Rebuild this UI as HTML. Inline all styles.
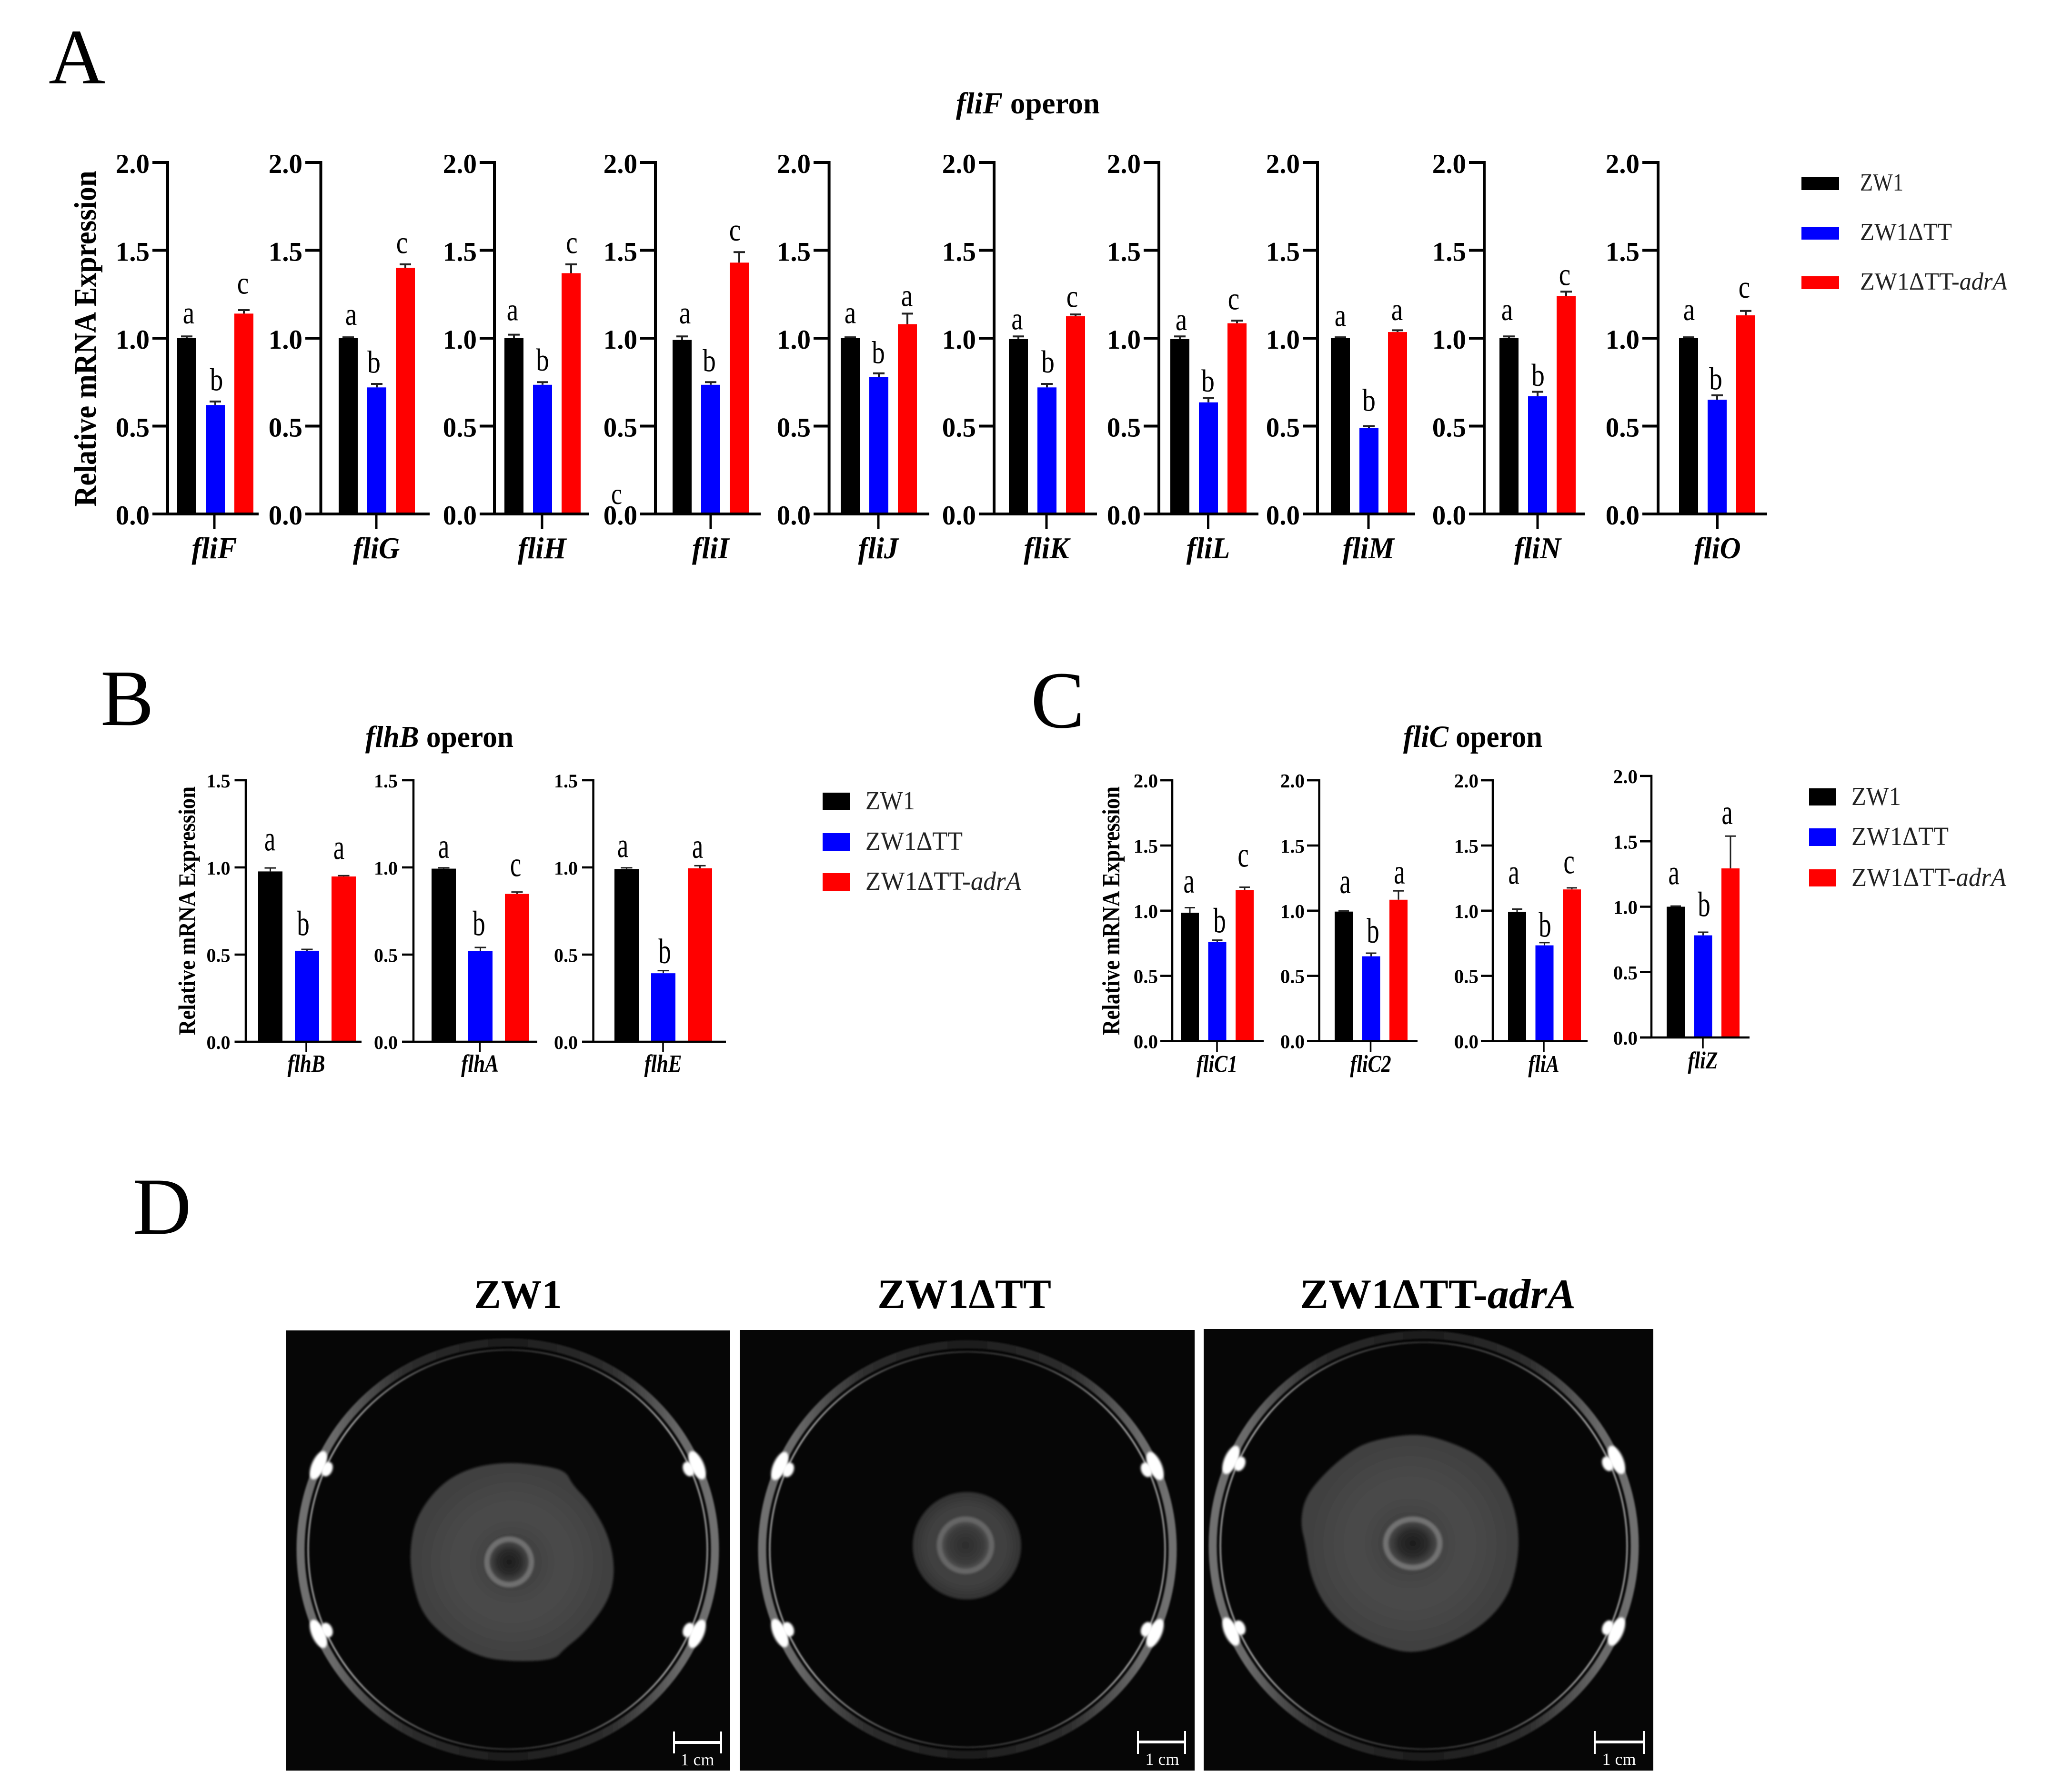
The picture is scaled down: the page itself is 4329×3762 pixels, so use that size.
<!DOCTYPE html>
<html lang="en">
<head>
<meta charset="utf-8">
<title>Flagellar gene expression and swarming</title>
<style>
html,body{margin:0;padding:0;background:#fff}
svg{display:block}
text{font-family:"Liberation Serif","DejaVu Serif",serif;fill:#000}
</style>
</head>
<body>
<svg id="fig" xmlns="http://www.w3.org/2000/svg" width="4329" height="3762" viewBox="0 0 4329 3762">
<defs>
<filter id="soft" x="-30%" y="-30%" width="160%" height="160%"><feGaussianBlur stdDeviation="2.5"/></filter>
<filter id="soft1" x="-10%" y="-10%" width="120%" height="120%"><feGaussianBlur stdDeviation="1.5"/></filter>
<clipPath id="clip1"><rect x="600" y="2793" width="933" height="924"/></clipPath>
<clipPath id="clip2"><rect x="1553" y="2792" width="955" height="925"/></clipPath>
<clipPath id="clip3"><rect x="2527" y="2790" width="944" height="927"/></clipPath>
<radialGradient id="swarmFill" cx="50%" cy="50%" r="55%"><stop offset="0" stop-color="#3a3a3a"/><stop offset=".45" stop-color="#4a4a4a"/><stop offset="1" stop-color="#3d3d3d"/></radialGradient>
<radialGradient id="swarmSmall" cx="50%" cy="50%" r="52%"><stop offset="0" stop-color="#474747"/><stop offset=".7" stop-color="#3f3f3f"/><stop offset="1" stop-color="#303030"/></radialGradient>
<radialGradient id="coreFill" cx="50%" cy="50%" r="50%"><stop offset="0" stop-color="#1c1c1c"/><stop offset=".55" stop-color="#2c2c2c"/><stop offset="1" stop-color="#525252"/></radialGradient>
<radialGradient id="coreSmall" cx="50%" cy="50%" r="50%"><stop offset="0" stop-color="#2c2c2c"/><stop offset=".7" stop-color="#3c3c3c"/><stop offset="1" stop-color="#5a5a5a"/></radialGradient>
<linearGradient id="rimBand" x1="0" y1="0" x2="1" y2="0"><stop offset="0" stop-color="#707070"/><stop offset=".08" stop-color="#6a6a6a"/><stop offset=".25" stop-color="#2e2e2e"/><stop offset=".5" stop-color="#1c1c1c"/><stop offset=".75" stop-color="#2e2e2e"/><stop offset=".92" stop-color="#6a6a6a"/><stop offset="1" stop-color="#707070"/></linearGradient>
<linearGradient id="rimLine" x1="0" y1="0" x2="1" y2="0"><stop offset="0" stop-color="#9a9a9a"/><stop offset=".1" stop-color="#aaaaaa"/><stop offset=".3" stop-color="#4a4a4a"/><stop offset=".5" stop-color="#2e2e2e"/><stop offset=".7" stop-color="#4a4a4a"/><stop offset=".9" stop-color="#aaaaaa"/><stop offset="1" stop-color="#9a9a9a"/></linearGradient>
</defs>

<text x="102" y="175" font-size="165">A</text>
<text x="211" y="1522" font-size="168">B</text>
<text x="2164" y="1527" font-size="170">C</text>
<text x="279" y="2590" font-size="170">D</text>

<text x="2007" y="238" font-size="63" font-weight="bold" textLength="302" lengthAdjust="spacingAndGlyphs"><tspan font-style="italic">fliF</tspan> operon</text>
<text x="767" y="1568" font-size="63" font-weight="bold" textLength="311" lengthAdjust="spacingAndGlyphs"><tspan font-style="italic">flhB</tspan> operon</text>
<text x="2946" y="1568" font-size="65" font-weight="bold" textLength="292" lengthAdjust="spacingAndGlyphs"><tspan font-style="italic">fliC</tspan> operon</text>

<text transform="translate(201 711) rotate(-90)" text-anchor="middle" font-size="66" font-weight="bold" textLength="705" lengthAdjust="spacingAndGlyphs">Relative mRNA Expression</text>
<text transform="translate(409 1912) rotate(-90)" text-anchor="middle" font-size="50" font-weight="bold" textLength="522" lengthAdjust="spacingAndGlyphs">Relative mRNA Expression</text>
<text transform="translate(2350 1912) rotate(-90)" text-anchor="middle" font-size="52" font-weight="bold" textLength="522" lengthAdjust="spacingAndGlyphs">Relative mRNA Expression</text>

<g fill="#000">
<rect x="3782" y="372" width="79" height="27" fill="#000"/>
<rect x="3782" y="476" width="79" height="27" fill="#0000ff"/>
<rect x="3782" y="580" width="79" height="27" fill="#ff0000"/>
<text x="3905" y="400" font-size="52" style="fill:#222" textLength="91" lengthAdjust="spacingAndGlyphs">ZW1</text>
<text x="3905" y="504" font-size="52" style="fill:#222" textLength="193" lengthAdjust="spacingAndGlyphs">ZW1ΔTT</text>
<text x="3905" y="608" font-size="52" style="fill:#222" textLength="309" lengthAdjust="spacingAndGlyphs">ZW1ΔTT-<tspan font-style="italic">adrA</tspan></text>
</g>
<g>
<rect x="1727" y="1664" width="57" height="37" fill="#000"/>
<rect x="1727" y="1749" width="57" height="37" fill="#0000ff"/>
<rect x="1727" y="1833" width="57" height="37" fill="#ff0000"/>
<text x="1817" y="1699" font-size="55" style="fill:#222" textLength="104" lengthAdjust="spacingAndGlyphs">ZW1</text>
<text x="1817" y="1784" font-size="55" style="fill:#222" textLength="204" lengthAdjust="spacingAndGlyphs">ZW1ΔTT</text>
<text x="1817" y="1868" font-size="55" style="fill:#222" textLength="327" lengthAdjust="spacingAndGlyphs">ZW1ΔTT-<tspan font-style="italic">adrA</tspan></text>
</g>
<g>
<rect x="3798" y="1655" width="57" height="36" fill="#000"/>
<rect x="3798" y="1739" width="57" height="37" fill="#0000ff"/>
<rect x="3798" y="1825" width="57" height="36" fill="#ff0000"/>
<text x="3887" y="1690" font-size="55" style="fill:#222" textLength="104" lengthAdjust="spacingAndGlyphs">ZW1</text>
<text x="3887" y="1774" font-size="55" style="fill:#222" textLength="204" lengthAdjust="spacingAndGlyphs">ZW1ΔTT</text>
<text x="3887" y="1860" font-size="55" style="fill:#222" textLength="325" lengthAdjust="spacingAndGlyphs">ZW1ΔTT-<tspan font-style="italic">adrA</tspan></text>
</g>

<text transform="translate(1283 1058) scale(.9 1.1)" font-size="58">c</text>

<g id="charts"></g>

<text x="995" y="2746" font-size="86" font-weight="bold" textLength="185" lengthAdjust="spacingAndGlyphs">ZW1</text>
<text x="1842" y="2746" font-size="88" font-weight="bold" textLength="365" lengthAdjust="spacingAndGlyphs">ZW1ΔTT</text>
<text x="2729" y="2746" font-size="88" font-weight="bold" textLength="579" lengthAdjust="spacingAndGlyphs">ZW1ΔTT-<tspan font-style="italic">adrA</tspan></text>

<g>
<rect x="600" y="2793" width="933" height="924" fill="#060606"/>
<g id="dish1" clip-path="url(#clip1)"></g>
<path id="swarm1" fill="url(#swarmFill)" filter="url(#soft)"/>
<ellipse cx="1069" cy="3279" rx="47" ry="48" fill="url(#coreFill)" stroke="#707070" stroke-width="11" filter="url(#soft)"/>
<rect x="1414" y="3655" width="100" height="6" fill="#fff"/>
<rect x="1413" y="3635" width="4" height="46" fill="#fff"/>
<rect x="1512" y="3635" width="4" height="46" fill="#fff"/>
<text x="1464" y="3706" font-size="36" text-anchor="middle" style="fill:#fff">1 cm</text>
</g>
<g>
<rect x="1553" y="2792" width="955" height="925" fill="#060606"/>
<g id="dish2" clip-path="url(#clip2)"></g>
<ellipse cx="2030" cy="3245" rx="114" ry="113" fill="url(#swarmSmall)" filter="url(#soft)"/>
<ellipse cx="2027" cy="3244" rx="55" ry="55" fill="url(#coreSmall)" stroke="#666" stroke-width="11" filter="url(#soft)"/>
<rect x="2389" y="3654" width="99" height="6" fill="#fff"/>
<rect x="2387" y="3634" width="4" height="48" fill="#fff"/>
<rect x="2486" y="3634" width="4" height="48" fill="#fff"/>
<text x="2440" y="3705" font-size="36" text-anchor="middle" style="fill:#fff">1 cm</text>
</g>
<g>
<rect x="2527" y="2790" width="944" height="927" fill="#060606"/>
<g id="dish3" clip-path="url(#clip3)"></g>
<path id="swarm3" fill="url(#swarmFill)" filter="url(#soft)"/>
<ellipse cx="2966" cy="3240" rx="57" ry="51" fill="url(#coreFill)" stroke="#727272" stroke-width="11" filter="url(#soft)"/>
<rect x="3348" y="3654" width="103" height="6" fill="#fff"/>
<rect x="3346" y="3634" width="4" height="48" fill="#fff"/>
<rect x="3449" y="3634" width="4" height="48" fill="#fff"/>
<text x="3399" y="3705" font-size="36" text-anchor="middle" style="fill:#fff">1 cm</text>
</g>
</svg>

<script>
// ---------- Panel A data (fliF operon) ----------
const genesA = ['fliF','fliG','fliH','fliI','fliJ','fliK','fliL','fliM','fliN','fliO'];
const zw1A = [1.00,1.00,1.00,0.99,1.00,0.995,0.995,1.00,1.00,1.00];
const zw1ErrA = [0.01,0.005,0.02,0.02,0.005,0.015,0.015,0.005,0.01,0.005];
const ttA = [0.62,0.72,0.735,0.735,0.78,0.72,0.635,0.49,0.67,0.65];
const ttErrA = [0.02,0.02,0.015,0.015,0.02,0.02,0.025,0.01,0.025,0.025];
const adrA = [1.14,1.40,1.37,1.43,1.08,1.125,1.085,1.035,1.24,1.13];
const adrErrA = [0.02,0.02,0.05,0.06,0.06,0.01,0.015,0.01,0.025,0.025];
const lettersA = ['abc','abc','abc','abc','aba','abc','abc','aba','abc','abc'];
const letterLevelA = [[1.125,0.765,1.294],[1.117,0.866,1.525],[1.143,0.877,1.525],[1.125,0.873,1.596],[1.127,0.92,1.224],[1.091,0.867,1.218],[1.087,0.759,1.205],[1.11,0.649,1.144],[1.144,0.791,1.343],[1.144,0.77,1.271]];
const ticksA = ['0.0','0.5','1.0','1.5','2.0'];

// ---------- Panel B data (flhB operon) ----------
const genesB = ['flhB','flhA','flhE'];
const zw1B = [0.977,0.993,0.991];
const zw1ErrB = [0.02,0.005,0.007];
const ttB = [0.522,0.52,0.393];
const ttErrB = [0.008,0.021,0.015];
const adrB = [0.948,0.848,0.995];
const adrErrB = [0.005,0.011,0.015];
const lettersB = ['aba','abc','aba'];
const letterLevelB = [[1.143,0.68,1.094],[1.101,0.68,0.995],[1.105,0.52,1.101]];
const ticksB = ['0.0','0.5','1.0','1.5'];

// ---------- Panel C data (fliC operon) ----------
const genesC = ['fliC1','fliC2','fliA','fliZ'];
const zw1C = [0.984,0.993,0.991,1.00];
const zw1ErrC = [0.039,0.005,0.021,0.005];
const ttC = [0.76,0.65,0.734,0.781];
const ttErrC = [0.014,0.024,0.021,0.024];
const adrC = [1.159,1.084,1.163,1.293];
const adrErrC = [0.021,0.068,0.012,0.247];
const lettersC = ['abc','aba','abc','aba'];
const letterLevelC = [[1.2,0.925,1.399],[1.196,0.846,1.268],[1.266,0.893,1.347],[1.233,1.02,1.693]];
const ticksC = ['0.0','0.5','1.0','1.5','2.0'];

// ---------- Layout (not data) ----------
const layoutA = {y0:1079,unit:369,barW:40,step:60,stroke:6,tickW:6,errW:4,cap:24,xTick:31,tickFont:57,tickGap:6,tickDy:22,
  labelFont:61,labelDy:93,labelSy:1.05,letterFont:60,letterSx:0.92,letterSy:1.12,
  frames:[[352,320,543,372,450],[673.5,641,902,711,790],[1038,1007,1237,1059,1138],[1376,1344,1597,1412,1492],[1740.6,1708,1951,1765,1844],[2087,2055,2303,2118,2197],[2433,2401,2642,2457,2536.5],[2766,2735,2971,2794,2873],[3116,3084,3327,3148,3228],[3481,3448,3710,3525,3605.5]],
  nudge:[[4,2.5,-2],[6,-6,-7],[-3,0,1.5],[6,-3,-9],[0,-1,-1],[-2.5,2,-7],[3,-1,-7],[0,0,-1],[-4,1,-3],[1,-3,-3]]};
const layoutB = {y0:2187,unit:366,barW:51,step:77,stroke:4.5,tickW:4.5,errW:3,cap:24,xTick:21,tickFont:40,tickGap:9,tickDy:15,
  labelFont:43,labelDy:63,labelSy:1.2,letterFont:62,letterSx:0.85,letterSy:1.2,
  frames:[[516,492.5,759,542,643],[868,844,1128,906,1007.5],[1245.6,1222,1524,1290,1392]],
  nudge:[[-1,-8,-10],[0,-3,-3],[-8,3,-5]]};
const layoutC = {y0:2185.5,unit:273.7,barW:38,step:57.5,stroke:4.5,tickW:4.5,errW:3,cap:22,xTick:23,tickFont:41,tickGap:5,tickDy:15,
  labelFont:42,labelDy:65,labelSy:1.2,letterFont:62,letterSx:0.85,letterSy:1.2,
  frames:[[2461,2436,2653,2479,2555],[2769.6,2744,2976,2802,2877.5],[3134,3109,3333,3166,3241],[3467,3443,3673,3499,3575]],
  frameY:[null,null,null,[2178,274.5]],
  nudge:[[-2,5,-3],[3,4,2],[-7,1,-6],[-4,2,-7]]};

const seriesColors = ['#000000','#0000ff','#ff0000'];
const seriesKeys = ['zw1','tt','adra'];
const NS = 'http://www.w3.org/2000/svg';
const chartsRoot = document.getElementById('charts');

function mk(tag, attrs, parent){
  const el = document.createElementNS(NS, tag);
  for (const k in attrs) el.setAttribute(k, attrs[k]);
  parent.appendChild(el);
  return el;
}

function drawGroup(name, layout, genes, ticks, series, errors, letters, levels){
  genes.forEach(function(gene, p){
    const f = layout.frames[p];
    const axisX = f[0], tickL = f[1], endX = f[2], barX0 = f[3], xTickX = f[4];
    const over = layout.frameY && layout.frameY[p];
    const y0 = over ? over[0] : layout.y0;
    const unit = over ? over[1] : layout.unit;
    const yAxis = function(v){ return y0 - v * unit; };
    const xAxis = function(i){ return barX0 + i * layout.step; };

    const g = mk('g', {}, chartsRoot);
    
    

    // bars and error bars
    series.forEach(function(vals, s){
      const v = vals[p], top = v + errors[s][p];
      const cx = xAxis(s) + layout.barW / 2;
      const err = mk('path', {d:'M'+cx+' '+yAxis(v)+'V'+yAxis(top)+'M'+(cx-layout.cap/2)+' '+yAxis(top)+'H'+(cx+layout.cap/2),
        stroke:'#222', 'stroke-width':layout.errW, fill:'none'}, g);
      
      
      const bar = mk('rect', {x:xAxis(s), y:yAxis(v), width:layout.barW, height:y0 - yAxis(v), fill:seriesColors[s]}, g);
      
      

      const ch = letters[p][s];
      const ly = yAxis(levels[p][s]) + layout.letterFont * layout.letterSy * (ch === 'b' ? 0.34 : 0.225);
      const lt = mk('text', {transform:'translate(' + (cx + layout.nudge[p][s]) + ' ' + ly + ') scale(' + layout.letterSx + ' ' + layout.letterSy + ')', 'font-size':layout.letterFont, 'text-anchor':'middle'}, g);
      lt.textContent = ch;
      
      
    });

    // axes
    const topVal = parseFloat(ticks[ticks.length - 1]);
    const ya = mk('line', {x1:axisX, x2:axisX, y1:yAxis(topVal) - layout.tickW / 2, y2:y0, stroke:'#000', 'stroke-width':layout.stroke}, g);
    
    
    const xa = mk('line', {x1:tickL, x2:endX, y1:y0, y2:y0, stroke:'#000', 'stroke-width':layout.stroke}, g);
    
    
    const xt = mk('line', {x1:xTickX, x2:xTickX, y1:y0, y2:y0 + layout.xTick, stroke:'#000', 'stroke-width':layout.tickW - 1}, g);
    
    

    ticks.forEach(function(lbl){
      const v = parseFloat(lbl);
      const tk = mk('line', {x1:tickL, x2:axisX, y1:yAxis(v), y2:yAxis(v), stroke:'#000', 'stroke-width':layout.tickW}, g);
      
      
      const tl = mk('text', {x:tickL - layout.tickGap, y:yAxis(v) + layout.tickDy, 'font-size':layout.tickFont, 'font-weight':'bold', 'text-anchor':'end'}, g);
      tl.textContent = lbl;
      
      
    });

    const gl = mk('text', {transform:'translate(' + xTickX + ' ' + (y0 + layout.labelDy) + ') scale(1 ' + layout.labelSy + ')', 'font-size':layout.labelFont, 'font-weight':'bold', 'font-style':'italic', 'text-anchor':'middle'}, g);
    gl.textContent = gene;
    
    
  });
}

drawGroup('a', layoutA, genesA, ticksA, [zw1A, ttA, adrA], [zw1ErrA, ttErrA, adrErrA], lettersA, letterLevelA);
drawGroup('b', layoutB, genesB, ticksB, [zw1B, ttB, adrB], [zw1ErrB, ttErrB, adrErrB], lettersB, letterLevelB);
drawGroup('c', layoutC, genesC, ticksC, [zw1C, ttC, adrC], [zw1ErrC, ttErrC, adrErrC], lettersC, letterLevelC);

// ---------- Petri dishes (photo imitation) ----------
function drawDish(id, cx, cy, r){
  const g = document.getElementById(id);
  const band = mk('circle', {cx:cx, cy:cy, r:r - 9, fill:'none', stroke:'url(#rimBand)', 'stroke-width':17, filter:'url(#soft1)'}, g);
  
  
  const inner = mk('circle', {cx:cx, cy:cy, r:r - 25, fill:'none', stroke:'url(#rimLine)', 'stroke-width':3.5, filter:'url(#soft1)'}, g);
  
  

  [204,336,156,24].forEach(function(deg){
    const rad = deg * Math.PI / 180;
    [[0.98,14,32],[0.935,11,16]].forEach(function(b){
      const x = cx + r * b[0] * Math.cos(rad), y = cy + r * b[0] * Math.sin(rad);
      const spot = mk('ellipse', {cx:x, cy:y, rx:b[1], ry:b[2], fill:'#fff', filter:'url(#soft)', transform:'rotate(' + deg + ' ' + x + ' ' + y + ')'}, g);
      
      
    });
  });
}
drawDish('dish1', 1066, 3253, 444);
drawDish('dish2', 2031, 3253, 440);
drawDish('dish3', 2989, 3245, 452);

// ---------- Swarm colony outlines (smoothed closed curves) ----------
function smoothClosed(pts, ox, oy, sx, sy){
  const P = pts.map(function(p){ return [ox + p[0] * sx, oy + p[1] * sy]; });
  const n = P.length;
  const mid = function(a, b){ return [(a[0] + b[0]) / 2, (a[1] + b[1]) / 2]; };
  const s = mid(P[n - 1], P[0]);
  let d = 'M' + s[0] + ' ' + s[1];
  for (let i = 0; i < n; i++) {
    const m = mid(P[i], P[(i + 1) % n]);
    d += 'Q' + P[i][0] + ' ' + P[i][1] + ' ' + m[0] + ' ' + m[1];
  }
  return d + 'Z';
}
document.getElementById('swarm1').setAttribute('d', smoothClosed([[950,752],[1040,762],[1090,775],[1105,808],[1150,855],[1195,935],[1210,1020],[1195,1095],[1135,1175],[1085,1215],[1062,1242],[960,1246],[880,1235],[800,1190],[740,1130],[715,1050],[708,970],[725,885],[785,805],[860,765]], 250, 2430, 0.8609, 0.8495));
document.getElementById('swarm3').setAttribute('d', smoothClosed([[680,508],[760,516],[885,565],[955,635],[995,715],[1012,810],[1004,905],[975,995],[903,1075],[800,1130],[690,1160],[595,1135],[495,1085],[425,1012],[385,922],[372,835],[356,772],[370,695],[428,625],[498,565],[560,530]], 2480, 2650, 0.7015, 0.7092));
</script>
</body>
</html>
